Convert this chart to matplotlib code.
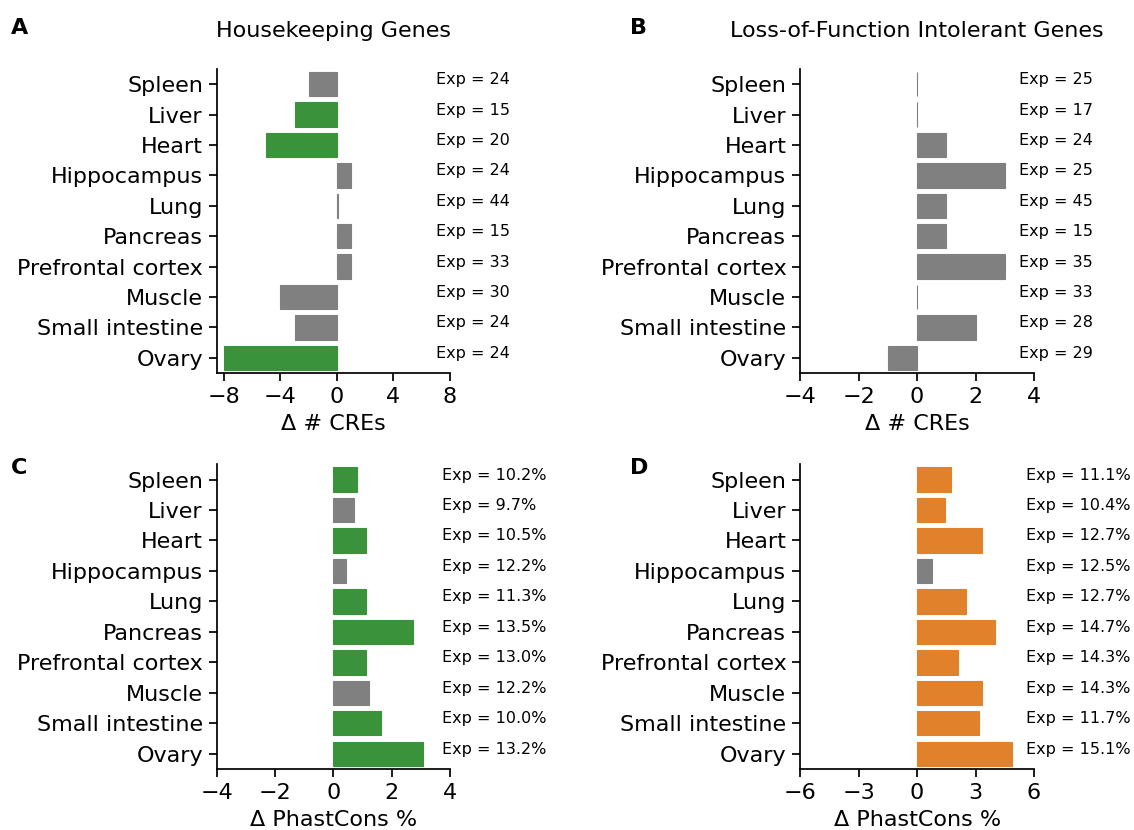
import matplotlib
matplotlib.use("Agg")
import matplotlib.pyplot as plt
import matplotlib.transforms as mtransforms

# tissues, top to bottom
tissues = ["Spleen", "Liver", "Heart", "Hippocampus", "Lung", "Pancreas",
           "Prefrontal cortex", "Muscle", "Small intestine", "Ovary"]

# A: housekeeping genes, delta # CREs
hk_cre = [-2, -3, -5, 1, 0.05, 1, 1, -4, -3, -8]
hk_cre_sig = [0, 1, 1, 0, 0, 0, 0, 0, 0, 1]
hk_cre_exp = ["24", "15", "20", "24", "44", "15", "33", "30", "24", "24"]

# B: LoF intolerant genes, delta # CREs
lof_cre = [0, 0, 1, 3, 1, 1, 3, 0, 2, -1]
lof_cre_sig = [0, 0, 0, 0, 0, 0, 0, 0, 0, 0]
lof_cre_exp = ["25", "17", "24", "25", "45", "15", "35", "33", "28", "29"]

# C: housekeeping genes, delta phastCons %
hk_pc = [0.82, 0.72, 1.13, 0.42, 1.13, 2.72, 1.13, 1.22, 1.63, 3.09]
hk_pc_sig = [1, 0, 1, 0, 1, 1, 1, 0, 1, 1]
hk_pc_exp = ["10.2%", "9.7%", "10.5%", "12.2%", "11.3%", "13.5%",
             "13.0%", "12.2%", "10.0%", "13.2%"]

# D: LoF intolerant genes, delta phastCons %
lof_pc = [1.72, 1.43, 3.31, 0.75, 2.52, 4.0, 2.12, 3.31, 3.2, 4.88]
lof_pc_sig = [1, 1, 1, 0, 1, 1, 1, 1, 1, 1]
lof_pc_exp = ["11.1%", "10.4%", "12.7%", "12.5%", "12.7%", "14.7%",
              "14.3%", "14.3%", "11.7%", "15.1%"]

GREY = "#808080"
GREEN = "#3a923a"
ORANGE = "#e1812c"

W, H = 1134, 830
fig = plt.figure(figsize=(W / 100, H / 100), dpi=100)


def px_axes(x0, y0, x1, y1):
    return fig.add_axes([x0 / W, 1 - y1 / H, (x1 - x0) / W, (y1 - y0) / H])


def panel(ax, vals, sig, exp, color, xlim, xticks, xlabel, text_x, title=None):
    cols = [color if s else GREY for s in sig]
    ypos = list(range(len(tissues)))
    ax.barh(ypos, vals, height=0.8, color=cols, edgecolor=cols, linewidth=0.8)
    ax.set_ylim(len(tissues) - 0.5, -0.5)
    ax.set_yticks(ypos)
    ax.set_yticklabels(tissues, fontsize=16)
    ax.set_xlim(*xlim)
    ax.set_xticks(xticks)
    ax.tick_params(axis="x", labelsize=16)
    ax.tick_params(length=6, width=1.25, pad=4)
    ax.set_xlabel(xlabel, fontsize=16, labelpad=5)
    for s in ["top", "right"]:
        ax.spines[s].set_visible(False)
    for s in ["left", "bottom"]:
        ax.spines[s].set_linewidth(1.25)
    trans = mtransforms.blended_transform_factory(ax.transAxes, ax.transData)
    for i, e in enumerate(exp):
        ax.text(text_x, i, "Exp = " + e, transform=trans, fontsize=11.5,
                ha="left", va="baseline", clip_on=False)
    if title:
        ax.set_title(title, fontsize=16, pad=23)


axA = px_axes(216.8, 69, 450, 373)
panel(axA, hk_cre, hk_cre_sig, hk_cre_exp, GREEN, (-8.5, 8), [-8, -4, 0, 4, 8],
      "Δ # CREs", 0.942, "Housekeeping Genes")

axB = px_axes(800.2, 69, 1034, 373)
panel(axB, lof_cre, lof_cre_sig, lof_cre_exp, GREEN, (-4, 4), [-4, -2, 0, 2, 4],
      "Δ # CREs", 0.936, "Loss-of-Function Intolerant Genes")

axC = px_axes(216.8, 464.3, 450, 769)
panel(axC, hk_pc, hk_pc_sig, hk_pc_exp, GREEN, (-4, 4), [-4, -2, 0, 2, 4],
      "Δ PhastCons %", 0.966)

axD = px_axes(800.2, 464.3, 1034, 769)
panel(axD, lof_pc, lof_pc_sig, lof_pc_exp, ORANGE, (-6, 6), [-6, -3, 0, 3, 6],
      "Δ PhastCons %", 0.966)

# panel letters
for lab, x, y in [("A", 10.7, 34.3), ("B", 630.4, 34.3),
                  ("C", 10.7, 474.3), ("D", 630.4, 474.3)]:
    fig.text(x / W, 1 - y / H, lab, fontsize=16, fontweight="bold",
             ha="left", va="baseline")

fig.savefig("out.png", dpi=100)
